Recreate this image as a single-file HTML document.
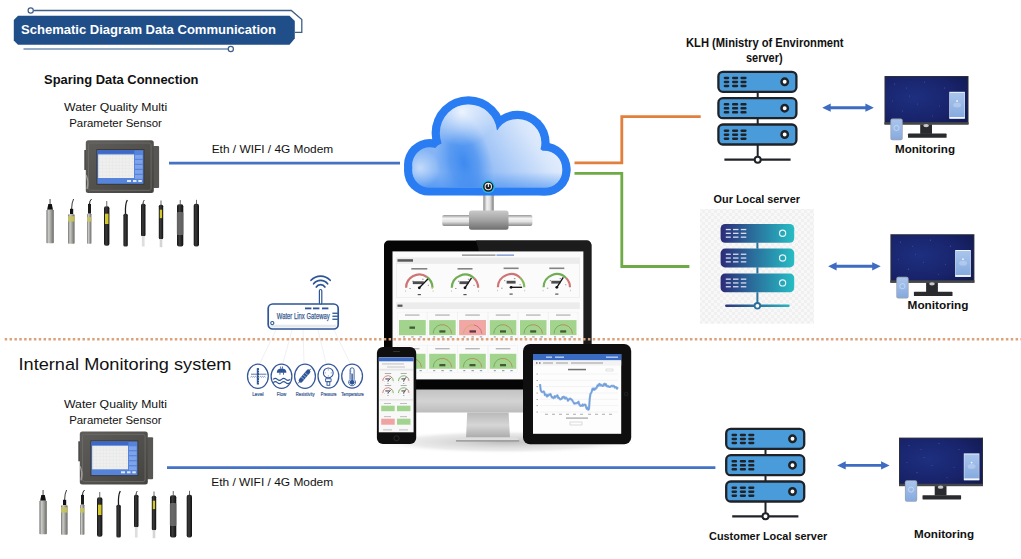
<!DOCTYPE html>
<html><head><meta charset="utf-8">
<style>
html,body{margin:0;padding:0;background:#fff;}
body{width:1021px;height:559px;overflow:hidden;position:relative;}
svg{position:absolute;left:0;top:0;}
text{font-family:"Liberation Sans",sans-serif;}
</style></head>
<body>
<svg width="1021" height="559" viewBox="0 0 1021 559">
<defs>
  <g id="srvunit">
    <rect x="0" y="0" width="78" height="20" rx="4.5" fill="#4a9bd9" stroke="#1f2328" stroke-width="2.3"/>
    <g fill="#1f2328">
      <rect x="5.3" y="4.9" width="5.6" height="2.5" rx="1.1"/><rect x="13.6" y="4.9" width="6.2" height="2.5" rx="1.1"/><rect x="22" y="4.9" width="6.2" height="2.5" rx="1.1"/>
      <rect x="5.3" y="8.9" width="5.6" height="2.5" rx="1.1"/><rect x="13.6" y="8.9" width="6.2" height="2.5" rx="1.1"/><rect x="22" y="8.9" width="6.2" height="2.5" rx="1.1"/>
      <rect x="5.3" y="12.9" width="5.6" height="2.5" rx="1.1"/><rect x="13.6" y="12.9" width="6.2" height="2.5" rx="1.1"/><rect x="22" y="12.9" width="6.2" height="2.5" rx="1.1"/>
      </g>
    <circle cx="66.3" cy="10" r="3.2" fill="#fff" stroke="#1f2328" stroke-width="2.5"/>
  </g>
  <marker id="ah" viewBox="0 0 10 10" refX="5" refY="5" markerWidth="4" markerHeight="4" orient="auto-start-reverse">
    <path d="M0,0 L10,5 L0,10 z" fill="#4472c4"/>
  </marker>
</defs>

<!-- Title banner -->
<path d="M33.5,10.5 H291.3 L301.8,19.6 V32.4 H295" fill="none" stroke="#3f5f86" stroke-width="1.3"/>
<circle cx="30.7" cy="10.5" r="2.6" fill="#fff" stroke="#3f5f86" stroke-width="1.2"/>
<path d="M18,15.7 H289.5 L294.8,21 V38.5 L289.5,44.7 H18 L13.8,40.5 V20 Z" fill="#1f4e89"/>
<text x="21" y="33.7" font-size="12.5" font-weight="bold" fill="#fff" textLength="255" lengthAdjust="spacingAndGlyphs">Schematic Diagram Data Communication</text>
<line x1="23.5" y1="49" x2="228" y2="49" stroke="#7290b5" stroke-width="1.6"/>
<circle cx="230.8" cy="49" r="2.6" fill="#fff" stroke="#3f5f86" stroke-width="1.2"/>

<!-- Left top texts -->
<text x="44" y="84" font-size="13.5" font-weight="bold" fill="#111" textLength="154.5" lengthAdjust="spacingAndGlyphs">Sparing Data Connection</text>
<text x="64" y="111.0" font-size="11.5" fill="#111" textLength="103.2" lengthAdjust="spacingAndGlyphs">Water Quality Multi</text>
<text x="69.2" y="127.4" font-size="11.5" fill="#111" textLength="92.7" lengthAdjust="spacingAndGlyphs">Parameter Sensor</text>

<text x="211.7" y="153.1" font-size="11.6" fill="#111" textLength="121.5" lengthAdjust="spacingAndGlyphs">Eth / WIFI / 4G Modem</text>
<line x1="169" y1="163.1" x2="400" y2="163.1" stroke="#4472c4" stroke-width="2.8"/>


<!-- cloud -->
<defs>
  <linearGradient id="cfill" gradientUnits="userSpaceOnUse" x1="420" y1="195" x2="560" y2="105">
    <stop offset="0" stop-color="#74abf4"/>
    <stop offset="0.45" stop-color="#99c0f6"/>
    <stop offset="0.75" stop-color="#d9e7fb"/>
    <stop offset="1" stop-color="#f6f9fe"/>
  </linearGradient>
  <radialGradient id="cstreak" cx="0.5" cy="0.5" r="0.5">
    <stop offset="0" stop-color="#3d8af0" stop-opacity="1"/>
    <stop offset="0.5" stop-color="#4a91f0" stop-opacity="0.75"/>
    <stop offset="1" stop-color="#5b9bf2" stop-opacity="0"/>
  </radialGradient>
  <linearGradient id="cbot" gradientUnits="userSpaceOnUse" x1="0" y1="172" x2="0" y2="190">
    <stop offset="0" stop-color="#3a88f0" stop-opacity="0"/>
    <stop offset="1" stop-color="#3a88f0" stop-opacity="0.6"/>
  </linearGradient>
  <radialGradient id="chl2" cx="0.5" cy="0.5" r="0.5">
    <stop offset="0" stop-color="#ffffff" stop-opacity="0.55"/>
    <stop offset="1" stop-color="#ffffff" stop-opacity="0"/>
  </radialGradient>
  <radialGradient id="chl" gradientUnits="userSpaceOnUse" cx="462" cy="112" r="34">
    <stop offset="0" stop-color="#ffffff" stop-opacity="0.8"/>
    <stop offset="1" stop-color="#ffffff" stop-opacity="0"/>
  </radialGradient>
  <linearGradient id="pipeH" x1="0" y1="0" x2="0" y2="1">
    <stop offset="0" stop-color="#9a9a9a"/><stop offset="0.3" stop-color="#f4f4f4"/><stop offset="0.6" stop-color="#e2e2e2"/><stop offset="1" stop-color="#8c8c8c"/>
  </linearGradient>
  <linearGradient id="pipeV" x1="0" y1="0" x2="1" y2="0">
    <stop offset="0" stop-color="#8a8a8a"/><stop offset="0.35" stop-color="#f2f2f2"/><stop offset="0.65" stop-color="#dcdcdc"/><stop offset="1" stop-color="#7a7a7a"/>
  </linearGradient>
  <linearGradient id="coup" x1="0" y1="0" x2="0" y2="1">
    <stop offset="0" stop-color="#c9c9c9"/><stop offset="0.5" stop-color="#a3a3a3"/><stop offset="1" stop-color="#6f6f6f"/>
  </linearGradient>
  <radialGradient id="shad" cx="0.5" cy="0" r="0.6">
    <stop offset="0" stop-color="#000" stop-opacity="0.35"/><stop offset="1" stop-color="#000" stop-opacity="0"/>
  </radialGradient>
</defs>
<ellipse cx="489" cy="196" rx="30" ry="6" fill="url(#shad)"/>
<rect x="483.3" y="194" width="10.4" height="18" fill="url(#pipeV)"/>
<rect x="442.2" y="215.1" width="90.2" height="10.8" rx="2" fill="url(#pipeH)"/>
<rect x="469" y="210.5" width="39.5" height="19.2" rx="2.5" fill="url(#coup)"/>
<g fill="#2a7cf3">
  <circle cx="468.4" cy="133" r="36.8"/>
  <circle cx="517.6" cy="142.8" r="32"/>
  <circle cx="430" cy="165" r="26"/>
  <circle cx="544" cy="169" r="26.5"/>
  <rect x="404" y="145" width="166.5" height="50.6" rx="25"/>
</g>
<clipPath id="cin">
  <circle cx="468.4" cy="133" r="28.6"/>
  <circle cx="517.6" cy="142.8" r="23.8"/>
  <circle cx="430" cy="165" r="17.8"/>
  <circle cx="544" cy="169" r="18.3"/>
  <rect x="412.2" y="153.2" width="150.1" height="34.4" rx="17"/>
  <circle cx="495" cy="145" r="15"/>
  <circle cx="445" cy="155" r="12"/>
  <circle cx="535" cy="160" r="12"/>
</clipPath>
<g clip-path="url(#cin)">
  <rect x="400" y="90" width="180" height="110" fill="url(#cfill)"/>
  <ellipse cx="0" cy="0" rx="28" ry="52" fill="url(#cstreak)" transform="translate(464,163) rotate(-14)"/>
  <rect x="400" y="90" width="180" height="110" fill="url(#cbot)"/>
  <rect x="400" y="90" width="180" height="110" fill="url(#chl)"/>
  <circle cx="420" cy="168" r="20" fill="url(#chl2)"/>
</g>
<circle cx="488.3" cy="186.6" r="6.6" fill="#27b8e8"/>
<circle cx="488.3" cy="186.6" r="5.2" fill="#1d1d1d"/>
<circle cx="488.3" cy="186.6" r="3.2" fill="none" stroke="#e8e8e8" stroke-width="1.1"/>
<rect x="487.8" y="183.6" width="1.1" height="3.4" fill="#fff"/>


<defs>
  <linearGradient id="silv" x1="0" y1="0" x2="1" y2="0">
    <stop offset="0" stop-color="#747472"/><stop offset="0.3" stop-color="#cbcbc7"/><stop offset="0.55" stop-color="#aaaaa6"/><stop offset="1" stop-color="#686865"/>
  </linearGradient>
  <linearGradient id="blk" x1="0" y1="0" x2="1" y2="0">
    <stop offset="0" stop-color="#151515"/><stop offset="0.4" stop-color="#3a3a3a"/><stop offset="1" stop-color="#0f0f0f"/>
  </linearGradient>
  <linearGradient id="devg" x1="0" y1="0" x2="1" y2="1">
    <stop offset="0" stop-color="#5f5d5a"/><stop offset="0.5" stop-color="#53514e"/><stop offset="1" stop-color="#45433f"/>
  </linearGradient>
  <pattern id="grid" width="3.3" height="3.3" patternUnits="userSpaceOnUse">
    <rect width="3.3" height="3.3" fill="#efefed"/><path d="M0,0 H3.3 M0,0 V3.3" stroke="#d6dae2" stroke-width="0.35"/>
  </pattern>
  <g id="device">
    <rect x="153" y="146" width="6.1" height="41.9" rx="1" fill="#585652"/>
    <rect x="84.3" y="150" width="2.5" height="20" fill="#4a4947"/>
    <rect x="85.8" y="140.2" width="68" height="52.9" rx="2.5" fill="url(#devg)"/>
    <rect x="88.5" y="143" width="62.6" height="47.3" rx="2" fill="none" stroke="#6b6966" stroke-width="1"/>
    <rect x="96.4" y="149.1" width="48" height="35.7" fill="#3a3836"/>
    <rect x="97.4" y="150.1" width="46" height="33.7" fill="#5584da"/>
    <rect x="97.4" y="150.1" width="37" height="3.6" fill="#3f69c4"/>
    <rect x="98.2" y="154.5" width="35.8" height="23.5" fill="url(#grid)"/>
    <g fill="#7ea3ea"><rect x="135" y="155" width="7.6" height="3.8"/><rect x="135" y="160" width="7.6" height="3.8"/><rect x="135" y="165" width="7.6" height="3.8"/><rect x="135" y="170" width="7.6" height="3.8"/><rect x="135" y="175" width="7.6" height="3.8"/></g>
    <g fill="#dfe8fb"><rect x="127" y="180" width="4" height="2"/><rect x="133" y="180" width="3.5" height="2"/><rect x="138.3" y="180" width="3.5" height="2"/></g>
    <path d="M86,175 q3,6 1,14" stroke="#cfcfcf" stroke-width="1.4" fill="none" opacity="0.6"/>
  </g>
  <g id="probes">
    <!-- 1 -->
    <rect x="49.6" y="199" width="0.9" height="5" fill="#333"/>
    <path d="M48.3,204 H51.8 L53,209.8 H47.2 Z" fill="#111"/>
    <rect x="46.4" y="209.8" width="7.4" height="33.4" rx="0.8" fill="url(#silv)"/>
    <!-- 2 -->
    <path d="M71.6,209 Q71.8,202 73.6,199" stroke="#222" stroke-width="0.9" fill="none"/>
    <rect x="70" y="208.8" width="3.2" height="5.4" fill="#111"/>
    <rect x="68" y="214.2" width="6.6" height="29.5" rx="0.8" fill="url(#silv)"/>
    <rect x="68" y="216.2" width="6.6" height="5.4" fill="#c9c55a" opacity="0.85"/>
    <!-- 3 -->
    <path d="M89.5,204 Q89.5,200.5 91.6,199" stroke="#222" stroke-width="1" fill="none"/>
    <rect x="88" y="203.9" width="3" height="9.8" fill="#1a1a1a"/>
    <rect x="87" y="213.7" width="4.4" height="30" rx="0.6" fill="url(#silv)"/>
    <rect x="87" y="217.1" width="4.4" height="4.5" fill="#c9c55a" opacity="0.85"/>
    <!-- 4 -->
    <rect x="106.4" y="201" width="0.8" height="5.3" fill="#444"/>
    <rect x="104" y="206.3" width="5.4" height="39.4" rx="2" fill="url(#blk)"/>
    <rect x="105" y="213.7" width="3.5" height="10.3" fill="#d2c829"/>
    <!-- 5 -->
    <path d="M125.5,214 Q125,204 127.3,200" stroke="#1a1a1a" stroke-width="1.3" fill="none"/>
    <rect x="123.4" y="213.7" width="4.4" height="32.9" rx="1.5" fill="url(#blk)"/>
    <!-- 6 -->
    <path d="M143,204 Q143,201.5 144.3,200" stroke="#222" stroke-width="0.9" fill="none"/>
    <rect x="141" y="203.8" width="4.5" height="32.5" rx="1.5" fill="url(#blk)"/>
    <rect x="141.9" y="236.3" width="2.7" height="10.2" fill="#dedede"/>
    <!-- 7 -->
    <rect x="160.6" y="200.5" width="0.8" height="4.5" fill="#444"/>
    <rect x="158.8" y="204.8" width="4.4" height="34.4" rx="1.5" fill="url(#blk)"/>
    <rect x="159.8" y="209.7" width="2.3" height="8.4" fill="#d2c829"/>
    <rect x="159.7" y="239.2" width="2.6" height="8" fill="#d5d5d5"/>
    <!-- 8 -->
    <rect x="179.8" y="200" width="0.8" height="4.5" fill="#444"/>
    <rect x="177" y="204.3" width="6.3" height="42.3" rx="2" fill="url(#blk)"/>
    <rect x="176.8" y="212" width="6.7" height="23" rx="1.5" fill="#7a7a7a" opacity="0.75"/>
    <!-- 9 -->
    <rect x="196" y="199.8" width="0.8" height="4.5" fill="#444"/>
    <rect x="193.7" y="203.8" width="5.3" height="42.8" rx="2" fill="url(#blk)"/>
  </g>
</defs>
<use href="#device"/>
<use href="#probes"/>
<use href="#device" x="-6" y="291.3"/>
<use href="#probes" x="-7" y="291"/>

<!-- orange / green -->
<path d="M574.5,162.8 H621.8 V116.7 H700.7" fill="none" stroke="#e27f3c" stroke-width="2.8"/>
<path d="M574.5,173.4 H621.8 V266.5 H689.4" fill="none" stroke="#6eab46" stroke-width="2.8"/>

<!-- KLH -->
<text x="686" y="46.7" font-size="13.5" font-weight="bold" fill="#111" textLength="157.6" lengthAdjust="spacingAndGlyphs">KLH (Ministry of Environment</text>
<text x="746" y="61.8" font-size="13.5" font-weight="bold" fill="#111" textLength="36.6" lengthAdjust="spacingAndGlyphs">server)</text>

<g transform="translate(718.4,71.8)">
  <use href="#srvunit"/>
  <use href="#srvunit" y="26.4"/>
  <use href="#srvunit" y="52.7"/>
  <rect x="38.3" y="20" width="2" height="6.4" fill="#1f2328"/>
  <rect x="38.3" y="46.4" width="2" height="6.4" fill="#1f2328"/>
  <rect x="38.3" y="72.7" width="2" height="13" fill="#1f2328"/>
  <line x1="6" y1="87.9" x2="72.2" y2="87.9" stroke="#1f2328" stroke-width="2.2"/>
  <circle cx="39.3" cy="87.9" r="3" fill="#fff" stroke="#1f2328" stroke-width="2"/>
</g>

<!-- Customer server -->
<g transform="translate(726.2,428.8)">
  <use href="#srvunit"/>
  <use href="#srvunit" y="26.4"/>
  <use href="#srvunit" y="52.7"/>
  <rect x="38.3" y="20" width="2" height="6.4" fill="#1f2328"/>
  <rect x="38.3" y="46.4" width="2" height="6.4" fill="#1f2328"/>
  <rect x="38.3" y="72.7" width="2" height="13" fill="#1f2328"/>
  <line x1="6" y1="87.5" x2="72.2" y2="87.5" stroke="#1f2328" stroke-width="2.2"/>
  <circle cx="39.3" cy="87.5" r="3" fill="#fff" stroke="#1f2328" stroke-width="2"/>
</g>
<text x="709.0" y="539.8" font-size="10.9" font-weight="bold" fill="#111" textLength="118.2" lengthAdjust="spacingAndGlyphs">Customer Local server</text>

<!-- Our Local server -->
<text x="713.6" y="202.8" font-size="10.9" font-weight="bold" fill="#111" textLength="86.3" lengthAdjust="spacingAndGlyphs">Our Local server</text>


<defs>
  <pattern id="chk" width="6" height="6" patternUnits="userSpaceOnUse">
    <rect width="6" height="6" fill="#f8f8f8"/>
    <rect width="3" height="3" fill="#f0f0f0"/><rect x="3" y="3" width="3" height="3" fill="#f0f0f0"/>
  </pattern>
  <linearGradient id="tealg" gradientUnits="userSpaceOnUse" x1="720" y1="0" x2="794" y2="0">
    <stop offset="0" stop-color="#2c2a78"/>
    <stop offset="0.45" stop-color="#2a6e9c"/>
    <stop offset="1" stop-color="#27bcc4"/>
  </linearGradient>
  <g id="tunit">
    <rect x="720.6" y="0" width="73.6" height="18.8" rx="4.5" fill="url(#tealg)"/>
    <g fill="#d8dcef">
      <rect x="725.8" y="5" width="5" height="1.3"/><rect x="733" y="5" width="5.5" height="1.3"/><rect x="740.8" y="5" width="5.5" height="1.3"/>
      <rect x="725.8" y="8.8" width="5" height="1.3"/><rect x="733" y="8.8" width="5.5" height="1.3"/><rect x="740.8" y="8.8" width="5.5" height="1.3"/>
      <rect x="725.8" y="12.6" width="5" height="1.3"/><rect x="733" y="12.6" width="5.5" height="1.3"/><rect x="740.8" y="12.6" width="5.5" height="1.3"/>
    </g>
    <circle cx="782.6" cy="9.4" r="3.1" fill="none" stroke="#e6f6f8" stroke-width="1.2"/>
  </g>
</defs>
<rect x="700" y="209" width="114" height="114.7" fill="url(#chk)"/>
<use href="#tunit" y="223.9"/>
<use href="#tunit" y="248.6"/>
<use href="#tunit" y="273.5"/>
<rect x="756.4" y="242.5" width="2" height="6.2" fill="#2a6e9c"/>
<rect x="756.4" y="267.3" width="2" height="6.2" fill="#2a6e9c"/>
<rect x="756.4" y="292.2" width="2" height="11" fill="url(#tealg)"/>
<line x1="726.3" y1="305.8" x2="788.5" y2="305.8" stroke="url(#tealg)" stroke-width="2.4" stroke-linecap="round"/>
<circle cx="757.4" cy="305.8" r="2.8" fill="#fff" stroke="#2a6e9c" stroke-width="1.8"/>

<!-- arrows -->
<path d="M822.2,107.7 L830.7,103.60000000000001 V106.25 H865.4 V103.60000000000001 L873.9,107.7 L865.4,111.8 V109.15 H830.7 V111.8 Z" fill="#3d6cc1"/>
<path d="M828.1,266.3 L836.6,262.2 V264.85 H872.2 V262.2 L880.7,266.3 L872.2,270.40000000000003 V267.75 H836.6 V270.40000000000003 Z" fill="#3d6cc1"/>
<path d="M837.2,465.4 L845.7,461.29999999999995 V463.95 H881.1 V461.29999999999995 L889.6,465.4 L881.1,469.5 V466.84999999999997 H845.7 V469.5 Z" fill="#3d6cc1"/>

<text x="895.0" y="152.9" font-size="11.0" font-weight="bold" fill="#111" textLength="60" lengthAdjust="spacingAndGlyphs">Monitoring</text>
<text x="907.6" y="308.9" font-size="11.0" font-weight="bold" fill="#111" textLength="60.9" lengthAdjust="spacingAndGlyphs">Monitoring</text>
<text x="914.0" y="537.8" font-size="11.0" font-weight="bold" fill="#111" textLength="60.1" lengthAdjust="spacingAndGlyphs">Monitoring</text>


<defs>
  <radialGradient id="scr" cx="0.35" cy="0.45" r="0.85">
    <stop offset="0" stop-color="#1e2f80"/>
    <stop offset="0.6" stop-color="#18236a"/>
    <stop offset="1" stop-color="#111a4e"/>
  </radialGradient>
  <linearGradient id="app" x1="0" y1="0" x2="0" y2="1">
    <stop offset="0" stop-color="#a9c5ec"/><stop offset="1" stop-color="#86aadf"/>
  </linearGradient>
  <g id="monitor">
    <rect x="0" y="0" width="84" height="48.5" fill="#303136"/>
    <rect x="0.9" y="0.9" width="82.2" height="45.3" fill="url(#scr)"/>
    <rect x="0" y="46.2" width="84" height="2.3" fill="#45464b"/>
    <g fill="#5a7fd0" opacity="0.55">
      <circle cx="10" cy="8" r="0.6"/><circle cx="25" cy="20" r="0.5"/><circle cx="40" cy="6" r="0.6"/><circle cx="55" cy="30" r="0.5"/><circle cx="18" cy="35" r="0.6"/><circle cx="48" cy="40" r="0.5"/><circle cx="33" cy="28" r="0.5"/><circle cx="60" cy="12" r="0.6"/><circle cx="8" cy="25" r="0.5"/><circle cx="22" cy="12" r="0.5"/>
    </g>
    <rect x="64.8" y="15.8" width="15.6" height="26.8" fill="#eef3fb"/>
    <rect x="65.3" y="16.8" width="14.6" height="24.2" fill="url(#app)"/>
    <circle cx="72.6" cy="25" r="0.9" fill="#f2f6fc"/>
    <ellipse cx="72.6" cy="29" rx="4" ry="2.5" fill="#c9daf3" opacity="0.5"/>
    <rect x="65" y="41" width="15.2" height="1.6" fill="#f4f7fc"/>
    <path d="M35.7,48.5 H47.5 V57.9 H35.7 Z" fill="#2a2b2f"/>
    <ellipse cx="41.6" cy="49.6" rx="2.8" ry="1.6" fill="#c9c9cc"/>
    <rect x="23.5" y="57.6" width="38.6" height="4.2" rx="0.6" fill="#2a2b2f"/>
    <!-- phone -->
    <rect x="5.9" y="42.6" width="12.3" height="21.6" rx="2" fill="#9aa3b2"/>
    <rect x="6.7" y="43.5" width="10.7" height="19.8" rx="1.5" fill="url(#app)"/>
    <circle cx="12" cy="52" r="2.6" fill="none" stroke="#e8f0fb" stroke-width="0.5"/>
  </g>
</defs>
<use href="#monitor" x="884.5" y="76"/>
<use href="#monitor" x="890.4" y="234.2"/>
<use href="#monitor" x="899" y="437.6"/>


<!-- devices -->
<defs>
  <linearGradient id="chin" x1="0" y1="0" x2="0" y2="1">
    <stop offset="0" stop-color="#c2c2c2"/><stop offset="0.5" stop-color="#d3d3d3"/><stop offset="1" stop-color="#bcbcbc"/>
  </linearGradient>
  <linearGradient id="neck" x1="0" y1="0" x2="0" y2="1">
    <stop offset="0" stop-color="#b9b9b9"/><stop offset="0.5" stop-color="#d6d6d6"/><stop offset="1" stop-color="#a9a9a9"/>
  </linearGradient>
  <linearGradient id="floor" x1="0" y1="0" x2="0" y2="1">
    <stop offset="0" stop-color="#9a9a9a" stop-opacity="0.8"/><stop offset="1" stop-color="#ffffff" stop-opacity="0"/>
  </linearGradient>
  <radialGradient id="floorR" cx="0.5" cy="0.5" r="0.5">
    <stop offset="0" stop-color="#888" stop-opacity="0.55"/><stop offset="0.7" stop-color="#bbb" stop-opacity="0.3"/><stop offset="1" stop-color="#fff" stop-opacity="0"/>
  </radialGradient>
  <linearGradient id="gl" x1="0" y1="0" x2="1" y2="0">
    <stop offset="0" stop-color="#ffffff" stop-opacity="0"/><stop offset="1" stop-color="#ffffff" stop-opacity="0.12"/>
  </linearGradient>
  <g id="gauge">
    <path d="M-13.2,0 A13.2,13.2 0 0 1 7.6,-10.8" fill="none" stroke="#cf7474" stroke-width="2.2"/>
    <path d="M7.6,-10.8 A13.2,13.2 0 0 1 13.2,0" fill="none" stroke="#72ad55" stroke-width="2.2"/>
    <circle cx="13" cy="0.3" r="0.9" fill="#e0c040"/>
    <g fill="#777"><rect x="-10" y="0.5" width="1.5" height="0.7"/><rect x="-7" y="-7" width="1.2" height="0.8"/><rect x="2.8" y="-9" width="1.5" height="0.8"/><rect x="8.5" y="-3" width="1" height="0.9"/></g>
    <line x1="0" y1="0" x2="8.6" y2="-8.8" stroke="#111" stroke-width="1.3"/>
    <circle cx="0" cy="0" r="1.4" fill="#111"/>
    <rect x="-6.5" y="-6.5" width="11" height="2.8" fill="#222" opacity="0.8"/>
    <rect x="-1.6" y="6.2" width="3.2" height="1.2" fill="#555"/>
    <rect x="-14" y="2.5" width="0.5" height="1.5" fill="#999"/><rect x="13.5" y="2.5" width="0.5" height="1.5" fill="#999"/>
    <rect x="-8" y="-19.8" width="16" height="1.6" fill="#444" opacity="0.65"/>
  </g>
  <g id="gauge2">
    <path d="M-13.2,0 A13.2,13.2 0 0 1 9.3,-9.3" fill="none" stroke="#72ad55" stroke-width="2.2"/>
    <path d="M9.3,-9.3 A13.2,13.2 0 0 1 13.2,0" fill="none" stroke="#cf7474" stroke-width="2.2"/>
    <g fill="#777"><rect x="-10" y="0.5" width="1.5" height="0.7"/><rect x="-7" y="-7" width="1.2" height="0.8"/><rect x="2.8" y="-9" width="1.5" height="0.8"/><rect x="8.5" y="-3" width="1" height="0.9"/></g>
    <line x1="0" y1="0" x2="6.5" y2="-10" stroke="#111" stroke-width="1.3"/>
    <circle cx="0" cy="0" r="1.4" fill="#111"/>
    <rect x="-5.5" y="-6.5" width="9" height="2.8" fill="#222" opacity="0.8"/>
    <rect x="-1.6" y="6.2" width="3.2" height="1.2" fill="#555"/>
    <rect x="-14" y="2.5" width="0.5" height="1.5" fill="#999"/><rect x="13.5" y="2.5" width="0.5" height="1.5" fill="#999"/>
    <rect x="-7.5" y="-19.8" width="15" height="1.6" fill="#444" opacity="0.65"/>
  </g>
  <g id="gauge3">
    <path d="M-13.2,0 A13.2,13.2 0 0 1 9.3,-9.3" fill="none" stroke="#cf7474" stroke-width="2.2"/>
    <path d="M9.3,-9.3 A13.2,13.2 0 0 1 13.2,0" fill="none" stroke="#86b85a" stroke-width="2.2"/>
    <g fill="#777"><rect x="-10" y="0.5" width="1.5" height="0.7"/><rect x="-7" y="-7" width="1.2" height="0.8"/><rect x="2.8" y="-9" width="1.5" height="0.8"/><rect x="8.5" y="-3" width="1" height="0.9"/></g>
    <line x1="0" y1="0" x2="11" y2="0" stroke="#111" stroke-width="1.3"/>
    <circle cx="0" cy="0" r="1.4" fill="#111"/>
    <rect x="-4.5" y="-6.5" width="9" height="2.8" fill="#222" opacity="0.8"/>
    <rect x="-1.6" y="6.2" width="3.2" height="1.2" fill="#555"/>
    <rect x="-14" y="2.5" width="0.5" height="1.5" fill="#999"/><rect x="13.5" y="2.5" width="0.5" height="1.5" fill="#999"/>
    <rect x="-7.5" y="-19.8" width="15" height="1.6" fill="#444" opacity="0.65"/>
  </g>
  <g id="card">
    <rect x="-1.5" y="-8" width="29.5" height="27" fill="none" stroke="#eeeeee" stroke-width="0.4"/>
    <rect x="0" y="0" width="26.5" height="15" fill="#a2d48e"/>
    <path d="M4,13.5 A9.5,9.5 0 0 1 11,4.8" fill="none" stroke="#6fa15a" stroke-width="0.8"/>
    <path d="M11,4.8 A9.5,9.5 0 0 1 22.5,13.5" fill="none" stroke="#b48a58" stroke-width="0.9"/>
    <rect x="10.2" y="10.2" width="6" height="2.3" fill="#2c3a22" opacity="0.8"/>
    <rect x="6" y="-5.6" width="14.5" height="1.1" fill="#555" opacity="0.5"/>
    <g fill="#667" opacity="0.6"><rect x="4" y="16.2" width="2" height="1.2"/><rect x="12.2" y="16.2" width="2.4" height="1.2"/><rect x="20.5" y="16.2" width="2.4" height="1.2" fill="#4a6ac0"/></g>
  </g>
</defs>
<!-- floor shadow -->
<ellipse cx="505" cy="442" rx="135" ry="12" fill="url(#floorR)"/>
<!-- iMac -->
<rect x="384" y="240.6" width="207.4" height="151" rx="4.5" fill="#050505"/>
<path d="M476,240.6 H587 a4.5,4.5 0 0 1 4.4,4.5 V389.6 H583.4 V251.4 H479 Z" fill="#1c1c1c"/>
<rect x="392.5" y="251.4" width="190.9" height="128" fill="#fbfbfb"/>
<path d="M384,389.6 H591.4 V409.6 a3,3 0 0 1 -3,3 H387 a3,3 0 0 1 -3,-3 Z" fill="url(#chin)"/>
<path d="M467.2,412.6 H508.6 L510,438 H466 Z" fill="url(#neck)"/>
<path d="M459,437.2 H516.5 L519.2,440.6 H456 Z" fill="#dedede"/>
<rect x="456" y="440.3" width="63.2" height="1.2" fill="#8a8a8a"/>
<!-- dashboard content -->
<rect x="462" y="254.4" width="33.5" height="1.5" fill="#555" opacity="0.6"/>
<rect x="496.5" y="254.4" width="17.5" height="1.5" fill="#3b5fc0" opacity="0.6"/>
<rect x="396.1" y="257.5" width="183.9" height="5.7" fill="#ececec"/>
<rect x="397.5" y="259.2" width="15.5" height="2.5" fill="#333" opacity="0.8"/>
<rect x="396.6" y="263.2" width="183" height="34.2" fill="none" stroke="#e6e6e6" stroke-width="0.6"/>

<use href="#gauge" x="419.3" y="287.8"/>
<use href="#gauge2" x="465" y="287.8"/>
<use href="#gauge3" x="511.1" y="287.3"/>
<use href="#gauge2" x="556.8" y="287.3"/>
<rect x="396" y="302.4" width="183.8" height="6.6" fill="#ececec"/>
<rect x="397.5" y="304.6" width="5" height="2.2" fill="#333" opacity="0.8"/>
<use href="#card" x="399" y="320.1"/>
<use href="#card" x="429.2" y="320.1"/>
<use href="#card" x="459.3" y="320.1"/>
<rect x="459.3" y="320.1" width="26.5" height="15" fill="#f2a6a6"/>
<path d="M463.3,333.6 A9.5,9.5 0 0 1 474,325" fill="none" stroke="#c9b060" stroke-width="0.9"/>
<path d="M474,325 A9.5,9.5 0 0 1 481.8,333.6" fill="none" stroke="#c87070" stroke-width="0.9"/>
<rect x="469.5" y="330.3" width="6.5" height="2.3" fill="#3a2222" opacity="0.8"/>
<use href="#card" x="489.8" y="320.1"/>
<use href="#card" x="520" y="320.1"/>
<use href="#card" x="550" y="320.1"/>
<rect x="399" y="320.1" width="26.5" height="15" fill="#a2d48e"/>
<rect x="409.5" y="326.5" width="5.5" height="2.3" fill="#2c3a22" opacity="0.8"/>
<use href="#card" x="399" y="353.8"/>
<use href="#card" x="429.2" y="353.8"/>
<use href="#card" x="459.3" y="353.8"/>
<use href="#card" x="489.8" y="353.8"/>


<!-- gateway -->
<g stroke="#e3e6eb" stroke-width="0.6" fill="none">
  <line x1="276" y1="330" x2="260" y2="363"/>
  <line x1="292" y1="330" x2="283" y2="363"/>
  <line x1="303" y1="330" x2="304" y2="363"/>
  <line x1="318" y1="330" x2="326" y2="363"/>
  <line x1="334" y1="330" x2="350" y2="363"/>
</g>
<g fill="none" stroke="#2d5597" stroke-linecap="round">
  <path d="M270.5,324.8 H336 V327.6 H270.5 Z" fill="#e4e8ef" stroke="none"/>
  <rect x="268.2" y="304" width="70" height="25" rx="4.5" stroke-width="1.7"/>
  <rect x="319.4" y="289.5" width="2.4" height="14.5" rx="1.2" stroke-width="1.2" fill="#fff"/>
  <path d="M316.3,287 A5,5 0 0 1 324.9,287" stroke-width="1.7"/>
  <path d="M313.6,283.8 A9,9 0 0 1 327.6,283.8" stroke-width="1.7"/>
  <path d="M311,280.3 A13,13 0 0 1 330.2,280.3" stroke-width="1.7"/>
  <circle cx="272.3" cy="323.1" r="1.6" stroke-width="1.1"/>
</g>
<g fill="#2d5597">
  <rect x="305" y="307.5" width="6.4" height="1.8"/><rect x="313" y="307.5" width="6.4" height="1.8"/><rect x="322" y="307.5" width="6.4" height="1.8"/>
  <rect x="332.4" y="312.6" width="5.4" height="1.3"/><rect x="332.4" y="315.6" width="5.4" height="1.3"/><rect x="332.4" y="318.6" width="5.4" height="1.3"/>
</g>
<text x="276.8" y="318.6" font-size="8.2" fill="#37598f" stroke="#37598f" stroke-width="0.25" textLength="52.9" lengthAdjust="spacingAndGlyphs">Water Linx Gateway</text>
<!-- icons -->
<g fill="none" stroke="#34579a" stroke-width="1.25">
  <ellipse cx="257.9" cy="376.3" rx="10.4" ry="12.1"/>
  <ellipse cx="281.5" cy="376.3" rx="10.4" ry="12.1"/>
  <ellipse cx="305" cy="376.3" rx="10.4" ry="12.1"/>
  <ellipse cx="328.4" cy="376.1" rx="10.4" ry="12.1"/>
  <ellipse cx="352.1" cy="376.1" rx="10.4" ry="12.1"/>
</g>
<g fill="#2d5597" stroke="#2d5597">
  <!-- level -->
  <rect x="256.8" y="368.1" width="2.2" height="16.4" stroke="none"/>
  <g fill="#cfd9ea" stroke="none"><rect x="257.9" y="370" width="1.1" height="0.6"/><rect x="257.9" y="372.5" width="1.1" height="0.6"/><rect x="257.9" y="375" width="1.1" height="0.6"/><rect x="257.9" y="377.5" width="1.1" height="0.6"/><rect x="257.9" y="380" width="1.1" height="0.6"/><rect x="257.9" y="382.5" width="1.1" height="0.6"/></g>
  <line x1="251" y1="374.2" x2="266.4" y2="374.2" stroke-width="0.8"/>
  <path d="M250.5,377.2 l1,-0.8 l1,0.8 l1,-0.8 l1,0.8 l1,-0.8 l1,0.8 M259.5,377.2 l1,-0.8 l1,0.8 l1,-0.8 l1,0.8 l1,-0.8 l1,0.8" fill="none" stroke-width="0.6"/>
  <!-- flow -->
  <path d="M276.8,372.7 Q276.8,368.6 281.6,368.6 Q286.4,368.6 286.4,372.7 Z" stroke="none"/>
  <rect x="280.3" y="366.5" width="0.8" height="2.2" stroke="none"/><rect x="282.1" y="366.5" width="0.8" height="2.2" stroke="none"/>
  <rect x="279.5" y="372.5" width="0.9" height="2.2" stroke="none"/><rect x="283" y="372.5" width="0.9" height="2.2" stroke="none"/>
  <path d="M273.2,379.4 q2.1,-2 4.2,0 t4.2,0 t4.2,0 t4.2,0 M273.2,382.6 q2.1,-2 4.2,0 t4.2,0 t4.2,0 t4.2,0" fill="none" stroke-width="1.1"/>
  <!-- resistivity -->
  <path d="M298.2,383.4 L310.7,368.8" stroke-width="1" fill="none"/>
  <path d="M300.8,380.4 L308.3,371.6" stroke-width="4.2" fill="none" stroke-linecap="round"/>
  <g stroke="#dfe6f2" stroke-width="0.6"><line x1="301" y1="376.8" x2="304.4" y2="379.6"/><line x1="302.8" y1="374.7" x2="306.2" y2="377.5"/><line x1="304.6" y1="372.6" x2="308" y2="375.4"/></g>
  <!-- pressure -->
  <circle cx="328.3" cy="372.9" r="4.9" fill="#fff" stroke-width="1.1"/>
  <g stroke-width="0.5"><line x1="328.3" y1="369.2" x2="328.3" y2="370.5"/><line x1="328.3" y1="375.3" x2="328.3" y2="376.6"/><line x1="324.6" y1="372.9" x2="325.9" y2="372.9"/><line x1="330.7" y1="372.9" x2="332" y2="372.9"/></g>
  <path d="M325.6,378.7 H331.1 V381.7 H325.6 Z" fill="none" stroke-width="0.9"/>
  <rect x="327" y="381.7" width="2.8" height="3.6" fill="none" stroke-width="0.9"/>
  <!-- temp -->
  <path d="M350.1,379.6 V369.8 A2,2 0 0 1 354.1,369.8 V379.6 A3.4,3.4 0 1 1 350.1,379.6 Z" fill="#fff" stroke-width="0.9"/>
  <rect x="351.4" y="373.6" width="1.4" height="8" stroke="none"/>
  <circle cx="352.1" cy="382.3" r="2.4" stroke="none"/>
  <g stroke-width="0.5"><line x1="350.2" y1="370" x2="351.4" y2="370"/><line x1="350.2" y1="371.7" x2="351.4" y2="371.7"/><line x1="350.2" y1="373.4" x2="351.4" y2="373.4"/></g>
</g>
<g font-size="6" fill="#34558f" stroke="#34558f" stroke-width="0.2">
  <text x="252.2" y="396.3" textLength="11.5" lengthAdjust="spacingAndGlyphs">Level</text>
  <text x="276.8" y="396.3" textLength="9.5" lengthAdjust="spacingAndGlyphs">Flow</text>
  <text x="295.8" y="396.3" textLength="18.8" lengthAdjust="spacingAndGlyphs">Resistivity</text>
  <text x="320.8" y="396.3" textLength="15.7" lengthAdjust="spacingAndGlyphs">Pressure</text>
  <text x="341.2" y="396.3" textLength="22.5" lengthAdjust="spacingAndGlyphs">Temperature</text>
</g>

<!-- dotted line -->
<line x1="4.7" y1="339.2" x2="1021" y2="339.2" stroke="#dca27a" stroke-width="2.4" stroke-dasharray="2.5 2.36"/>


<!-- phone -->
<rect x="376.9" y="346.9" width="39.3" height="97.2" rx="6" fill="#0f0f10"/>
<rect x="378.8" y="357.3" width="34.8" height="75" fill="#f8f8f8"/>
<rect x="378.8" y="357.5" width="34.8" height="3.8" fill="#3f6cc4"/>
<rect x="382" y="363.5" width="22" height="0.9" fill="#777" opacity="0.5"/>
<rect x="387" y="366.6" width="18" height="0.8" fill="#777" opacity="0.5"/>
<rect x="379.5" y="368.8" width="33.4" height="1.8" fill="#e6e6e6"/>
<g transform="translate(388,381) scale(0.4)"><use href="#gauge"/></g>
<g transform="translate(403.7,381) scale(0.4)"><use href="#gauge2"/></g>
<g transform="translate(388,393) scale(0.4)"><use href="#gauge"/></g>
<g transform="translate(403.7,393) scale(0.4)"><use href="#gauge2"/></g>
<rect x="379.5" y="399" width="33.4" height="1.6" fill="#e6e6e6"/>
<rect x="381.2" y="405.7" width="13.5" height="5.5" fill="#a3d48f"/>
<rect x="397" y="405.7" width="13.5" height="5.5" fill="#a3d48f"/>
<rect x="381.2" y="418.7" width="13.5" height="6" fill="#f0a3a3"/>
<rect x="397" y="418.7" width="13.5" height="6" fill="#a3d48f"/>
<g fill="#666" opacity="0.5"><rect x="384" y="403.2" width="7" height="0.8"/><rect x="400" y="403.2" width="7" height="0.8"/><rect x="384" y="416.3" width="7" height="0.8"/><rect x="400" y="416.3" width="7" height="0.8"/><rect x="383" y="429.5" width="9" height="0.8"/><rect x="399" y="429.5" width="9" height="0.8"/></g>
<circle cx="396.5" cy="438.3" r="2.6" fill="none" stroke="#3a3a3a" stroke-width="0.6"/>
<rect x="393" y="351" width="7" height="1" rx="0.5" fill="#333"/>
<!-- tablet -->
<rect x="523" y="344" width="108.2" height="100.2" rx="7" fill="#0f0f10"/>
<rect x="533" y="354" width="88.2" height="79.8" fill="#fdfdfd"/>
<rect x="533" y="354" width="88.2" height="6.4" fill="#3a6bc2"/>
<rect x="533" y="360.4" width="88.2" height="5.2" fill="#f3f3f3"/>
<rect x="568" y="368.8" width="18" height="1.5" fill="#333" opacity="0.7"/>
<rect x="546" y="356.6" width="6" height="1.1" fill="#dfe8f7"/><rect x="555" y="356.6" width="9" height="1.1" fill="#dfe8f7"/><rect x="606" y="356.6" width="12" height="1.1" fill="#dfe8f7"/>
<rect x="536" y="362.4" width="1.5" height="1.2" fill="#555"/><rect x="539" y="362.4" width="1.5" height="1.2" fill="#555"/><rect x="543" y="362.6" width="10" height="0.8" fill="#888"/><rect x="556" y="362.6" width="12" height="0.8" fill="#888"/><rect x="571" y="362.6" width="32" height="0.8" fill="#888"/>
<rect x="606" y="369" width="7" height="2" fill="none" stroke="#bbb" stroke-width="0.4"/>
<g fill="#999"><rect x="536.5" y="373.6" width="1.4" height="0.9"/><rect x="536.5" y="380" width="1.4" height="0.9"/><rect x="536.5" y="386.2" width="1.4" height="0.9"/><rect x="536.5" y="392.6" width="1.4" height="0.9"/><rect x="536.5" y="399" width="1.4" height="0.9"/><rect x="536.5" y="405.2" width="1.4" height="0.9"/><rect x="536.5" y="411.6" width="1.4" height="0.9"/>
<rect x="545" y="413.8" width="3" height="0.8"/><rect x="552" y="413.8" width="3" height="0.8"/><rect x="559" y="413.8" width="3" height="0.8"/><rect x="566" y="413.8" width="3" height="0.8"/><rect x="573" y="413.8" width="3" height="0.8"/><rect x="580" y="413.8" width="3" height="0.8"/><rect x="588" y="413.8" width="3" height="0.8"/><rect x="595" y="413.8" width="3" height="0.8"/><rect x="602" y="413.8" width="3" height="0.8"/><rect x="609" y="413.8" width="3" height="0.8"/></g>
<g stroke="#e4e4e4" stroke-width="0.4">
  <line x1="540" y1="374" x2="618" y2="374"/><line x1="540" y1="380.3" x2="618" y2="380.3"/><line x1="540" y1="386.6" x2="618" y2="386.6"/><line x1="540" y1="393" x2="618" y2="393"/><line x1="540" y1="399.3" x2="618" y2="399.3"/><line x1="540" y1="405.6" x2="618" y2="405.6"/><line x1="540" y1="412" x2="618" y2="412"/>
</g>
<path d="M540.0,384.2 L540.7,390.0 L541.4,391.6 L542.1,392.0 L542.8,392.2 L543.5,391.4 L544.2,392.1 L544.9,395.1 L545.6,394.4 L546.3,394.8 L547.0,396.6 L547.7,395.0 L548.4,395.5 L549.1,394.4 L549.8,394.8 L550.5,394.0 L551.2,395.9 L551.9,397.3 L552.6,397.2 L553.3,398.1 L554.0,397.9 L554.7,396.1 L555.4,397.3 L556.1,396.5 L556.8,395.7 L557.5,395.3 L558.2,397.9 L558.9,397.6 L559.6,398.8 L560.3,399.4 L561.0,398.8 L561.7,398.9 L562.4,397.1 L563.1,397.6 L563.8,396.7 L564.5,398.1 L565.2,398.6 L565.9,397.4 L566.6,398.2 L567.3,398.9 L568.0,400.8 L568.7,399.3 L569.4,399.4 L570.1,398.5 L570.8,399.2 L571.5,399.4 L572.2,400.2 L572.9,401.6 L573.6,402.4 L574.3,403.7 L575.0,403.2 L575.7,403.5 L576.4,403.0 L577.1,403.1 L577.8,402.5 L578.5,401.7 L579.2,404.2 L579.9,405.3 L580.6,405.9 L581.3,405.5 L582.0,405.9 L582.7,404.4 L583.4,405.6 L584.1,405.0 L584.8,404.5 L585.5,404.7 L586.2,407.5 L586.9,408.9 L587.6,407.6 L588.3,409.8 L589.0,409.0 L589.7,399.1 L590.4,394.1 L591.1,393.0 L591.8,391.4 L592.5,388.7 L593.2,389.9 L593.9,388.4 L594.6,389.8 L595.3,388.3 L596.0,388.6 L596.7,387.6 L597.4,385.5 L598.1,386.1 L598.8,384.3 L599.5,383.8 L600.2,385.5 L600.9,384.7 L601.6,385.4 L602.3,385.9 L603.0,386.0 L603.7,384.4 L604.4,383.7 L605.1,385.3 L605.8,384.0 L606.5,385.9 L607.2,386.4 L607.9,385.9 L608.6,386.6 L609.3,386.9 L610.0,387.0 L610.7,386.5 L611.4,385.9 L612.1,385.7 L612.8,386.4 L613.5,385.8 L614.2,386.2 L614.9,387.6 L615.6,387.0 L616.3,387.3 L617.0,388.7 L617.7,387.1" fill="none" stroke="#8db2e2" stroke-width="2.2" stroke-linejoin="round"/>
<path d="M540.0,384.2 L540.7,390.0 L541.4,391.6 L542.1,392.0 L542.8,392.2 L543.5,391.4 L544.2,392.1 L544.9,395.1 L545.6,394.4 L546.3,394.8 L547.0,396.6 L547.7,395.0 L548.4,395.5 L549.1,394.4 L549.8,394.8 L550.5,394.0 L551.2,395.9 L551.9,397.3 L552.6,397.2 L553.3,398.1 L554.0,397.9 L554.7,396.1 L555.4,397.3 L556.1,396.5 L556.8,395.7 L557.5,395.3 L558.2,397.9 L558.9,397.6 L559.6,398.8 L560.3,399.4 L561.0,398.8 L561.7,398.9 L562.4,397.1 L563.1,397.6 L563.8,396.7 L564.5,398.1 L565.2,398.6 L565.9,397.4 L566.6,398.2 L567.3,398.9 L568.0,400.8 L568.7,399.3 L569.4,399.4 L570.1,398.5 L570.8,399.2 L571.5,399.4 L572.2,400.2 L572.9,401.6 L573.6,402.4 L574.3,403.7 L575.0,403.2 L575.7,403.5 L576.4,403.0 L577.1,403.1 L577.8,402.5 L578.5,401.7 L579.2,404.2 L579.9,405.3 L580.6,405.9 L581.3,405.5 L582.0,405.9 L582.7,404.4 L583.4,405.6 L584.1,405.0 L584.8,404.5 L585.5,404.7 L586.2,407.5 L586.9,408.9 L587.6,407.6 L588.3,409.8 L589.0,409.0 L589.7,399.1 L590.4,394.1 L591.1,393.0 L591.8,391.4 L592.5,388.7 L593.2,389.9 L593.9,388.4 L594.6,389.8 L595.3,388.3 L596.0,388.6 L596.7,387.6 L597.4,385.5 L598.1,386.1 L598.8,384.3 L599.5,383.8 L600.2,385.5 L600.9,384.7 L601.6,385.4 L602.3,385.9 L603.0,386.0 L603.7,384.4 L604.4,383.7 L605.1,385.3 L605.8,384.0 L606.5,385.9 L607.2,386.4 L607.9,385.9 L608.6,386.6 L609.3,386.9 L610.0,387.0 L610.7,386.5 L611.4,385.9 L612.1,385.7 L612.8,386.4 L613.5,385.8 L614.2,386.2 L614.9,387.6 L615.6,387.0 L616.3,387.3 L617.0,388.7 L617.7,387.1" fill="none" stroke="#5b8fd3" stroke-width="0.6" stroke-linejoin="round"/>
<rect x="566" y="417.5" width="22" height="1.2" fill="#666" opacity="0.6"/>
<rect x="570" y="422" width="12" height="3" fill="none" stroke="#bbb" stroke-width="0.5"/>
<circle cx="626.2" cy="394" r="1.8" fill="none" stroke="#333" stroke-width="0.5"/>

<!-- Internal -->
<text x="18.5" y="369.7" font-size="17.2" fill="#111" textLength="213" lengthAdjust="spacingAndGlyphs">Internal Monitoring system</text>
<text x="64" y="408.3" font-size="11.5" fill="#111" textLength="103" lengthAdjust="spacingAndGlyphs">Water Quality Multi</text>
<text x="69.2" y="423.9" font-size="11.5" fill="#111" textLength="92.4" lengthAdjust="spacingAndGlyphs">Parameter Sensor</text>
<line x1="167" y1="467.7" x2="715.4" y2="467.7" stroke="#4472c4" stroke-width="2.8"/>
<text x="211.2" y="486.1" font-size="11.8" fill="#111" textLength="122" lengthAdjust="spacingAndGlyphs">Eth / WIFI / 4G Modem</text>

</svg>
</body></html>
